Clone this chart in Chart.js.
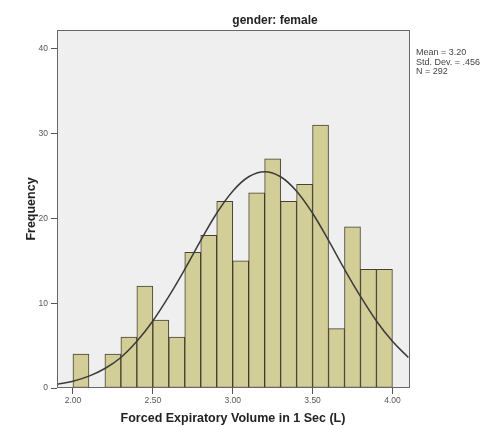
<!DOCTYPE html>
<html>
<head>
<meta charset="utf-8">
<script src="https://cdn.jsdelivr.net/npm/chart.js@4/dist/chart.umd.min.js"></script>
<style>
  html, body { margin: 0; padding: 0; background: #fff; }
  #wrap { width: 487px; height: 426px; }
</style>
</head>
<body>
<div id="wrap"><canvas id="histChart" width="487" height="426"></canvas></div>
<script>
// bin centres (bins of 0.1 L from 2.00 to 4.00)
const binCenters = [2.05, 2.15, 2.25, 2.35, 2.45, 2.55, 2.65, 2.75, 2.85, 2.95,
                    3.05, 3.15, 3.25, 3.35, 3.45, 3.55, 3.65, 3.75, 3.85, 3.95];
const frequencies = [4, 0, 4, 6, 12, 8, 6, 16, 18, 22,
                     15, 23, 27, 22, 24, 31, 7, 19, 14, 14];

// normal curve
const curveX = [1.9, 2.0, 2.1, 2.2, 2.3, 2.4, 2.5, 2.6, 2.7, 2.8, 2.9, 3.0,
                3.1, 3.2, 3.3, 3.4, 3.5, 3.6, 3.7, 3.8, 3.9, 4.0, 4.1];
const curveY = [0.45, 0.8, 1.4, 2.3, 3.6, 5.5, 7.9, 10.8, 14.0, 17.4, 20.6, 23.2,
                24.9, 25.5, 24.9, 23.2, 20.6, 17.4, 14.0, 10.8, 7.9, 5.5, 3.6];

const xTicks = [2.0, 2.5, 3.0, 3.5, 4.0];
const yTicks = [0, 10, 20, 30, 40];

const titleText = 'gender: female';
const xTitle = 'Forced Expiratory Volume in 1 Sec (L)';
const yTitle = 'Frequency';
const statsLines = ['Mean = 3.20', 'Std. Dev. = .456', 'N = 292'];

const FONT = "'Liberation Sans', Arial, sans-serif";

const plotBackground = {
  id: 'plotBackground',
  beforeDatasetsDraw(chart) {
    const { ctx, chartArea: a } = chart;
    ctx.save();
    ctx.fillStyle = '#efefef';
    ctx.fillRect(a.left, a.top, a.right - a.left, a.bottom - a.top);
    ctx.restore();
  },
  afterDraw(chart) {
    const { ctx, chartArea: a } = chart;
    ctx.save();
    ctx.strokeStyle = '#666';
    ctx.lineWidth = 1;
    ctx.strokeRect(Math.round(a.left) + 0.5, Math.round(a.top) + 0.5,
                   Math.round(a.right - a.left) - 1, Math.round(a.bottom - a.top) - 1);

    ctx.fillStyle = '#222';
    ctx.textAlign = 'center';
    ctx.textBaseline = 'middle';
    ctx.font = 'bold 12px ' + FONT;
    ctx.fillText(titleText, 275, 21);

    ctx.font = 'bold 12.5px ' + FONT;
    ctx.fillText(xTitle, 233, 419);

    ctx.save();
    ctx.translate(32, 209);
    ctx.rotate(-Math.PI / 2);
    ctx.fillText(yTitle, 0, 0);
    ctx.restore();

    ctx.font = '9px ' + FONT;
    ctx.fillStyle = '#444';
    ctx.textAlign = 'left';
    statsLines.forEach((s, i) => ctx.fillText(s, 416, 53 + i * 9.5));
    ctx.restore();
  }
};

const ctx = document.getElementById('histChart').getContext('2d');
new Chart(ctx, {
  data: {
    datasets: [
      {
        type: 'line',
        data: curveX.map((x, i) => ({ x: x, y: curveY[i] })),
        borderColor: '#3a3a3a',
        borderWidth: 1.5,
        pointRadius: 0,
        tension: 0.4,
        fill: false,
        order: 0
      },
      {
        type: 'bar',
        data: binCenters.map((x, i) => ({ x: x, y: frequencies[i] })),
        backgroundColor: 'rgb(211, 206, 151)',
        borderColor: 'rgba(50, 48, 30, 0.9)',
        borderWidth: 1,
        borderSkipped: false,
        barPercentage: 1,
        categoryPercentage: 1,
        grouped: false,
        order: 1
      }
    ]
  },
  options: {
    responsive: false,
    animation: false,
    layout: { padding: { top: 30, right: 77, left: 0, bottom: 0 } },
    plugins: {
      legend: { display: false },
      tooltip: { enabled: false },
      title: { display: false }
    },
    scales: {
      x: {
        type: 'linear',
        min: 1.9,
        max: 4.11,
        offset: false,
        afterFit(scale) { scale.height = 38; },
        afterBuildTicks(scale) { scale.ticks = xTicks.map(v => ({ value: v })); },
        grid: { drawOnChartArea: false, tickLength: 6, color: '#555', offset: false },
        border: { display: false },
        ticks: {
          padding: 2,
          maxRotation: 0,
          autoSkip: false,
          color: '#555',
          font: { family: FONT, size: 8.5 },
          callback: v => Number(v).toFixed(2)
        }
      },
      y: {
        min: 0,
        max: 42.2,
        afterFit(scale) { scale.width = 57; },
        afterBuildTicks(scale) { scale.ticks = yTicks.map(v => ({ value: v })); },
        grid: { drawOnChartArea: false, tickLength: 6, color: '#555' },
        border: { display: false },
        ticks: {
          padding: 3,
          color: '#555',
          font: { family: FONT, size: 8.5 }
        }
      }
    }
  },
  plugins: [plotBackground]
});
</script>
</body>
</html>
